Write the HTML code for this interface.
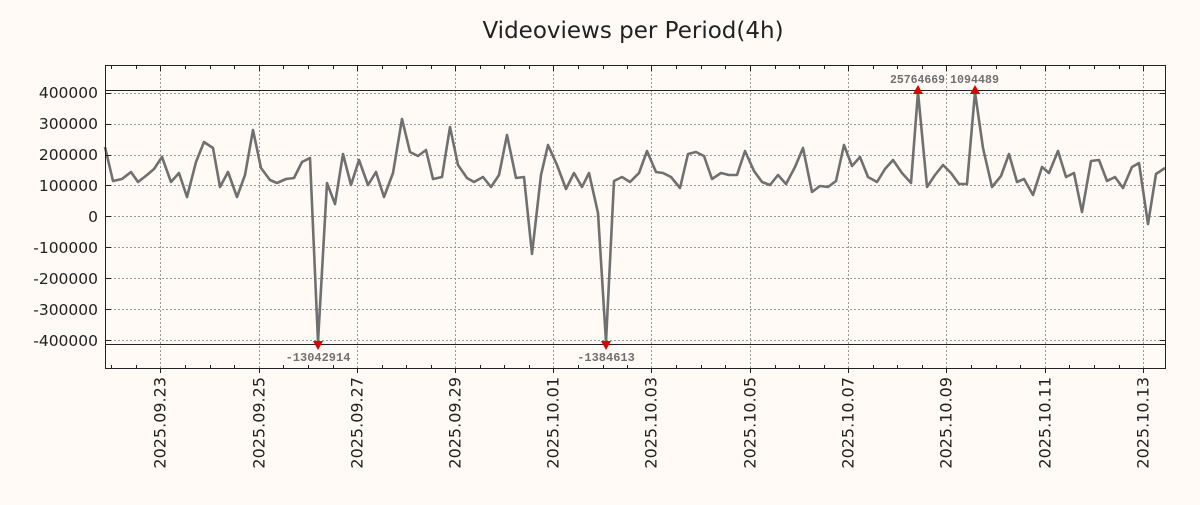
<!DOCTYPE html>
<html><head><meta charset="utf-8"><style>html,body{margin:0;padding:0;background:#fffaf5}</style></head>
<body>
<svg width="1200" height="500" xmlns="http://www.w3.org/2000/svg" font-family="DejaVu Sans, Liberation Sans, sans-serif">
<rect width="1200" height="500" fill="#fffaf5"/>
<text x="633" y="38" font-size="23" text-anchor="middle" fill="#222">Videoviews per Period(4h)</text>
<g id="grid" stroke="#999" stroke-dasharray="2,2" stroke-width="1">
<line x1="160.5" y1="66" x2="160.5" y2="368"/><line x1="259.5" y1="66" x2="259.5" y2="368"/><line x1="357.5" y1="66" x2="357.5" y2="368"/><line x1="455.5" y1="66" x2="455.5" y2="368"/><line x1="553.5" y1="66" x2="553.5" y2="368"/><line x1="651.5" y1="66" x2="651.5" y2="368"/><line x1="750.5" y1="66" x2="750.5" y2="368"/><line x1="848.5" y1="66" x2="848.5" y2="368"/><line x1="946.5" y1="66" x2="946.5" y2="368"/><line x1="1045.5" y1="66" x2="1045.5" y2="368"/><line x1="1143.5" y1="66" x2="1143.5" y2="368"/>
<line x1="106" y1="93.5" x2="1165" y2="93.5"/><line x1="106" y1="124.5" x2="1165" y2="124.5"/><line x1="106" y1="155.5" x2="1165" y2="155.5"/><line x1="106" y1="185.5" x2="1165" y2="185.5"/><line x1="106" y1="216.5" x2="1165" y2="216.5"/><line x1="106" y1="247.5" x2="1165" y2="247.5"/><line x1="106" y1="278.5" x2="1165" y2="278.5"/><line x1="106" y1="309.5" x2="1165" y2="309.5"/><line x1="106" y1="340.5" x2="1165" y2="340.5"/>
</g>
<line x1="106" y1="90.5" x2="1165" y2="90.5" stroke="#222" stroke-width="1"/>
<line x1="106" y1="344.5" x2="1165" y2="344.5" stroke="#222" stroke-width="1"/>
<polyline fill="none" stroke="#707070" stroke-width="2.6" stroke-linejoin="round" points="105,147 113,181 122,179 131,172 138,182 147,175 154,169 162,157 171,182 179,173 187,197 196,162 204,142 213,148 220,187 228,172 237,197 245,175 253,130 261,168 270,180 277,183 286,179 294,178 302,162 310,158 318,342 327,183 335,204 343,154 351,185 359,160 368,185 376,172 384,197 393,173 402,119 410,152 418,156 426,150 433,179 442,177 450,127 458,165 467,178 474,182 483,177 491,187 499,175 507,135 516,178 524,177 532,254 541,175 548,145 557,165 566,189 574,173 582,187 589,173 598,213 606,342 614,181 622,177 630,182 639,173 647,151 656,172 663,173 671,177 680,188 688,154 696,152 704,156 712,179 721,173 729,175 737,175 745,151 754,171 762,182 770,185 778,175 786,184 795,167 803,148 812,192 820,186 828,187 836,181 844,145 852,166 860,157 868,177 877,182 885,169 893,160 902,173 911,183 918,92 927,187 935,175 943,165 951,173 959,184 967,184 975,92 983,148 992,187 1001,176 1009,154 1017,182 1024,179 1033,195 1042,167 1049,173 1058,151 1066,177 1074,173 1082,212 1091,161 1099,160 1107,181 1115,177 1123,188 1132,167 1139,163 1148,224 1156,174 1165,168"/>
<g fill="#e00000">
<polygon points="313,341 323,341 318,350"/><polygon points="601,341 611,341 606,350"/>
<polygon points="913,94 923,94 918,85"/><polygon points="970,94 980,94 975,85"/>
</g>
<g font-family="Liberation Mono, DejaVu Sans Mono, monospace" font-size="12" font-weight="bold" fill="#707070">
<text x="318" y="361" text-anchor="middle">-13042914</text><text x="606" y="361" text-anchor="middle">-1384613</text>
<text x="890" y="83" textLength="55" lengthAdjust="spacingAndGlyphs">25764669</text><text x="950" y="83" textLength="49" lengthAdjust="spacingAndGlyphs">1094489</text>
</g>
<rect x="105.5" y="65.5" width="1060" height="303" fill="none" stroke="#222" stroke-width="1"/>
<g font-size="15.5" fill="#222" text-anchor="end">
<text x="98" y="98">400000</text><text x="98" y="129">300000</text><text x="98" y="160">200000</text><text x="98" y="191">100000</text><text x="98" y="222">0</text><text x="98" y="253">-100000</text><text x="98" y="284">-200000</text><text x="98" y="315">-300000</text><text x="98" y="346">-400000</text>
</g>
<g font-size="16" fill="#222" text-anchor="end">
<text transform="translate(165.5,377) rotate(-90)">2025.09.23</text>
<text transform="translate(264.5,377) rotate(-90)">2025.09.25</text>
<text transform="translate(362.5,377) rotate(-90)">2025.09.27</text>
<text transform="translate(460.5,377) rotate(-90)">2025.09.29</text>
<text transform="translate(558.5,377) rotate(-90)">2025.10.01</text>
<text transform="translate(656.5,377) rotate(-90)">2025.10.03</text>
<text transform="translate(755.5,377) rotate(-90)">2025.10.05</text>
<text transform="translate(853.5,377) rotate(-90)">2025.10.07</text>
<text transform="translate(951.5,377) rotate(-90)">2025.10.09</text>
<text transform="translate(1050.5,377) rotate(-90)">2025.10.11</text>
<text transform="translate(1148.5,377) rotate(-90)">2025.10.13</text>
</g>
<g stroke="#222" stroke-width="1">
<path d="M160.5,368v5M259.5,368v5M357.5,368v5M455.5,368v5M553.5,368v5M651.5,368v5M750.5,368v5M848.5,368v5M946.5,368v5M1045.5,368v5M1143.5,368v5"/>
<path d="M160.5,66v5M259.5,66v5M357.5,66v5M455.5,66v5M553.5,66v5M651.5,66v5M750.5,66v5M848.5,66v5M946.5,66v5M1045.5,66v5M1143.5,66v5"/>
<path d="M111.5,368v-3M136.5,368v-3M185.5,368v-3M210.5,368v-3M234.5,368v-3M283.5,368v-3M308.5,368v-3M333.5,368v-3M382.5,368v-3M406.5,368v-3M431.5,368v-3M480.5,368v-3M504.5,368v-3M529.5,368v-3M578.5,368v-3M603.5,368v-3M627.5,368v-3M676.5,368v-3M701.5,368v-3M725.5,368v-3M775.5,368v-3M799.5,368v-3M824.5,368v-3M873.5,368v-3M897.5,368v-3M922.5,368v-3M971.5,368v-3M996.5,368v-3M1020.5,368v-3M1069.5,368v-3M1094.5,368v-3M1119.5,368v-3"/>
<path d="M111.5,66v3M136.5,66v3M185.5,66v3M210.5,66v3M234.5,66v3M283.5,66v3M308.5,66v3M333.5,66v3M382.5,66v3M406.5,66v3M431.5,66v3M480.5,66v3M504.5,66v3M529.5,66v3M578.5,66v3M603.5,66v3M627.5,66v3M676.5,66v3M701.5,66v3M725.5,66v3M775.5,66v3M799.5,66v3M824.5,66v3M873.5,66v3M897.5,66v3M922.5,66v3M971.5,66v3M996.5,66v3M1020.5,66v3M1069.5,66v3M1094.5,66v3M1119.5,66v3"/>
<path d="M106,93.5h5M106,124.5h5M106,155.5h5M106,185.5h5M106,216.5h5M106,247.5h5M106,278.5h5M106,309.5h5M106,340.5h5"/>
<path d="M1165,93.5h-5M1165,124.5h-5M1165,155.5h-5M1165,185.5h-5M1165,216.5h-5M1165,247.5h-5M1165,278.5h-5M1165,309.5h-5M1165,340.5h-5"/>
</g>
</svg>
</body></html>
